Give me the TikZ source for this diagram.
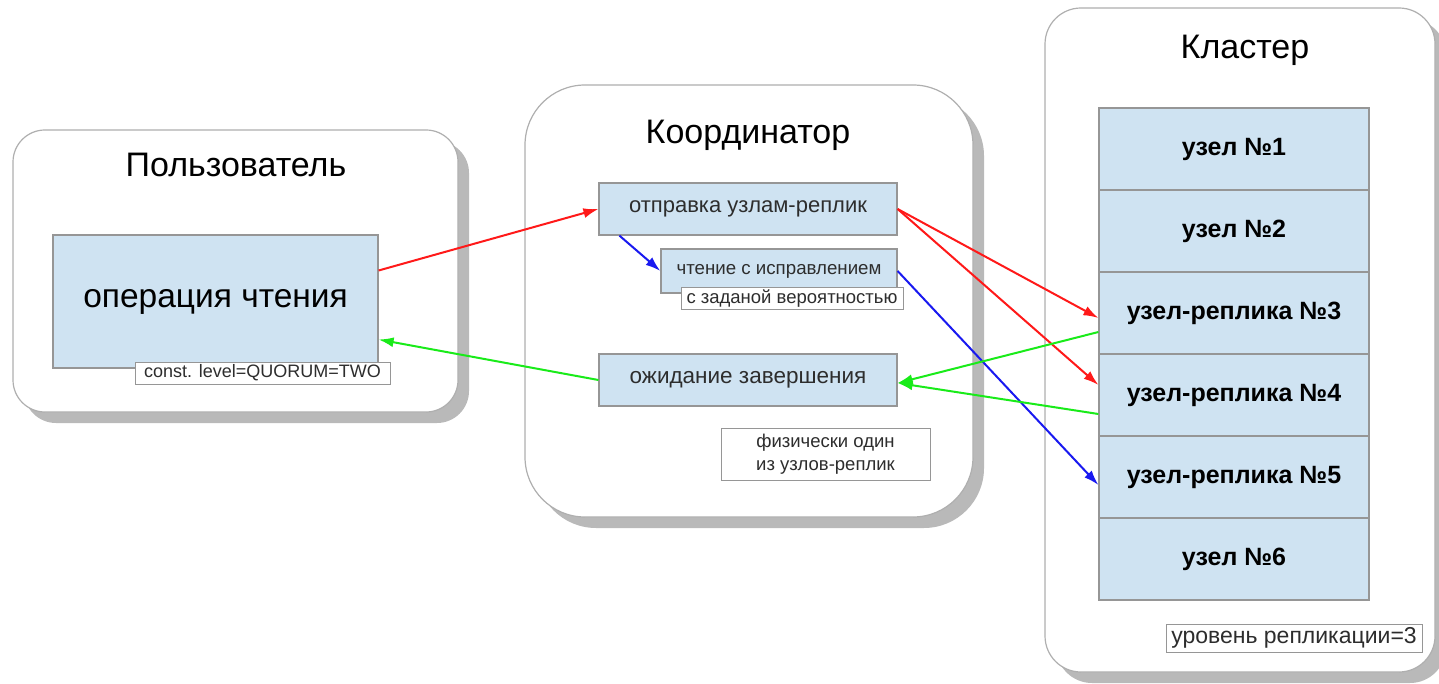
\documentclass[tikz,border=0pt]{standalone}
\usepackage{fontspec}
\setmainfont{Liberation Sans}
\definecolor{panelgray}{RGB}{175,175,175}
\definecolor{boxgray}{RGB}{150,150,150}
\definecolor{taskblue}{RGB}{207,227,242}
\definecolor{shadowgray}{RGB}{185,185,185}
\definecolor{textgray}{RGB}{45,45,45}
\definecolor{sendred}{RGB}{255,25,25}
\definecolor{backgreen}{RGB}{25,235,25}
\definecolor{repairblue}{RGB}{25,25,240}
\usetikzlibrary{shapes,arrows,arrows.meta,positioning,shadows}

\tikzset{
    panel/.style={draw=panelgray, fill=white, line width=1.2pt, inner sep=0pt,
        drop shadow={shadow xshift=11pt, shadow yshift=-11pt, fill=shadowgray, opacity=1}},
    headline/.style={font=\fontsize{34}{40}\selectfont},
    task/.style={draw=boxgray, fill=taskblue, line width=1.2pt, inner sep=0pt,
        text=textgray, font=\fontsize{22.5}{27}\selectfont},
    memo/.style={draw=boxgray, fill=white, line width=1pt, inner sep=0pt,
        text=textgray, font=\fontsize{18.5}{23}\selectfont},
    replica/.style={task, text=black, minimum width=270pt, minimum height=82pt,
        font=\fontsize{25}{29}\selectfont\bfseries},
    send/.style={-{Latex[length=15pt,width=10pt]}, line width=2pt},
}

\begin{document}
\begin{tikzpicture}[x=1pt, y=-1pt]
    \useasboundingbox (0,0) rectangle (1439,684);

    % Panels
    \node[panel, rounded corners=32pt, minimum width=445pt, minimum height=282pt] (user) at (235.5,271) {};
    \node[panel, rounded corners=60pt, minimum width=448pt, minimum height=432pt] (coord) at (749,301) {};
    \node[panel, rounded corners=36pt, minimum width=390pt, minimum height=664pt] (cluster) at (1240,340) {};

    \node[headline] (usertitle) at (236,165) {Пользователь};
    \node[headline] (coordtitle) at (748,135) {Координатор};
    \node[headline] (clustertitle) at (1245,50) {Кластер};

    % User side
    \node[task, minimum width=325pt, minimum height=133pt, text=black,
        font=\fontsize{33.5}{38}\selectfont] (read) at (215.5,301.5) {операция чтения};
    \node[memo, minimum width=255pt, minimum height=22pt, font=\fontsize{18}{22}\selectfont] (quorum) at (262.5,373) {const. level=QUORUM=TWO};

    % Coordinator
    \node[task, minimum width=298pt, minimum height=52pt, font=\fontsize{22}{26}\selectfont] (dispatch) at (748,209) {отправка узлам-реплик};
    \node[task, minimum width=236pt, minimum height=44pt, font=\fontsize{18.7}{23}\selectfont] (repair) at (779,271) {чтение с исправлением};
    \node[memo, minimum width=222pt, minimum height=22pt] (chance) at (792,299) {с заданой вероятностью};
    \node[task, minimum width=298pt, minimum height=52pt] (wait) at (748,380) {ожидание завершения};
    \node[memo, minimum width=209pt, minimum height=52pt, align=center] (physical) at (825.5,454)
        {физически один\\из узлов-реплик};

    % Cluster
    \foreach \i/\txt in {1/узел №1, 2/узел №2, 3/узел-реплика №3, 4/узел-реплика №4, 5/узел-реплика №5, 6/узел №6} {
        \node[replica] (r\i) at (1234,{108+82*(\i-0.5)}) {\txt};
    }
    \node[memo, minimum width=256pt, minimum height=28pt, font=\fontsize{23}{27}\selectfont] (level) at (1294,638) {уровень репликации=3};

    % Arrows
    \draw[send, sendred] ([yshift=31pt]read.east) -- (dispatch.west);
    \draw[send, backgreen] (wait.west) -- ([yshift=-38pt]read.east);
    \draw[send, repairblue] ([xshift=21pt]dispatch.south west) -- (repair.west);
    \draw[send, sendred] (dispatch.east) -- ([yshift=-5pt]r3.west);
    \draw[send, sendred] (dispatch.east) -- ([yshift=10pt]r4.west);
    \draw[send, repairblue] (repair.east) -- ([yshift=-8pt]r5.west);
    \draw[send, backgreen] ([yshift=-19pt]r3.west) -- ([yshift=-3pt]wait.east);
    \draw[send, backgreen] ([yshift=-19pt]r4.west) -- ([yshift=-3pt]wait.east);
\end{tikzpicture}
\end{document}
